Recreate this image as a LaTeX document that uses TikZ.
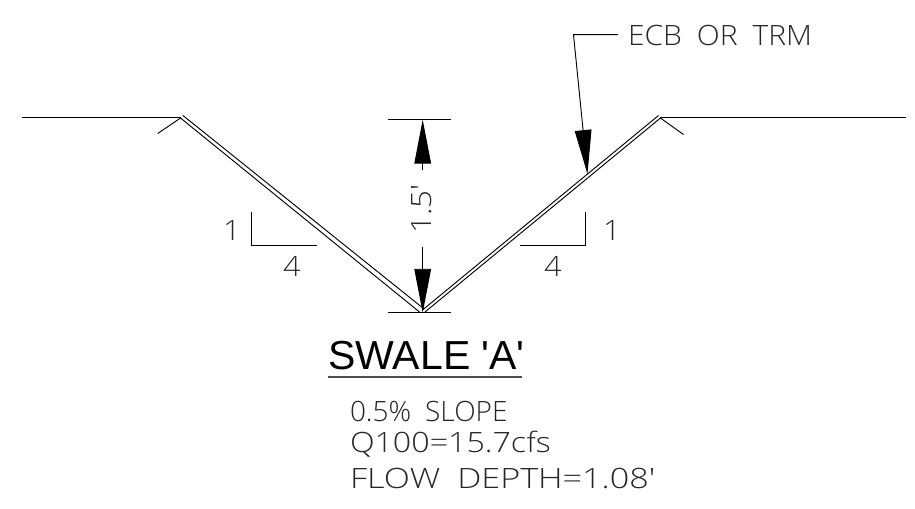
\documentclass[tikz,border=0pt]{standalone}
\usepackage{graphicx}
\usepackage{fontspec}
\newfontfamily\ttlfont{Liberation Sans}
\newfontfamily\cadfont{Open Sans Light}
\newcommand{\wid}[2]{\scalebox{#1}[1]{#2}}
\usetikzlibrary{arrows.meta}
\tikzset{
 x=0.75pt,y=-0.75pt,
 ln/.style={line width=0.85pt,black},
 thn/.style={line width=0.7pt,black},
 bigtip/.style={-{Triangle[length=33pt,width=12.5pt]}},
 cad/.style={inner sep=0pt,outer sep=0pt,anchor=base west,font=\cadfont\fontsize{21pt}{24pt}\selectfont,text=black!85},
 cadc/.style={cad,anchor=base},
}
\begin{document}
\begin{tikzpicture}
\useasboundingbox (0,0) rectangle (915,508);
% ground
\coordinate (gl0) at (22,117.3); \coordinate (gl1) at (181,117.3);
\coordinate (gr0) at (660,117.3); \coordinate (gr1) at (906,117.3);
\draw[ln] (gl0)--(gl1);
\draw[ln] (gr0)--(gr1);
% ticks under crest
\coordinate (tl) at (157.7,133.5); \coordinate (tr) at (683.5,134.5);
\draw[thn] (181,117.7)--(tl);
\draw[thn] (660,117.7)--(tr);
% double lines
\coordinate (lu) at (182.7,115.3); \coordinate (ll) at (180.5,118);
\coordinate (bot) at (422.5,310); \coordinate (bl) at (419.5,312); \coordinate (br) at (425,312);
\coordinate (ru) at (658.5,115.5); \coordinate (rl) at (660.5,118);
\draw[thn] (lu)--(423.5,308.5);
\draw[thn] (ll)--(bl);
\draw[thn] (ru)--(bot);
\draw[thn] (rl)--(br);
% dimension
\coordinate (t0) at (388,119.7); \coordinate (t1) at (451,119.7);
\coordinate (b0) at (388,312.8); \coordinate (b1) at (451,312.8);
\coordinate (dt) at (422.7,119.7); \coordinate (dts) at (422.7,170);
\coordinate (db) at (422.7,312.8); \coordinate (dbs) at (422.7,247);
\draw[ln] (t0)--(t1);
\draw[ln] (b0)--(b1);
\draw[thn,bigtip] (dts)--(dt);
\draw[thn,bigtip] (dbs)--(db);
\node[cadc,rotate=90] (dim) at (431,209) {\wid{1.12}{1.5'}};
% leader
\coordinate (l0) at (618,34.7); \coordinate (l1) at (573.5,34.7); \coordinate (l2) at (587.5,174);
\draw[thn,bigtip] (l0)--(l1)--(l2);
\node[cad] (ecb) at (628,45) {\wid{1.07}{ECB\hspace{0.5em}OR\hspace{0.5em}TRM}};
% slope marks
\coordinate (sl0) at (251.3,211.7); \coordinate (sl1) at (251.3,245.5); \coordinate (sl2) at (316.7,245.5);
\coordinate (sr0) at (585,211.7); \coordinate (sr1) at (585,245.5); \coordinate (sr2) at (520,245.5);
\draw[thn] (sl0)--(sl1)--(sl2);
\draw[thn] (sr0)--(sr1)--(sr2);
\node[cadc] (n1l) at (232,240) {\wid{1.1}{1}};
\node[cadc] (n4l) at (292,276) {\wid{1.1}{4}};
\node[cadc] (n1r) at (612,240) {\wid{1.1}{1}};
\node[cadc] (n4r) at (553,276) {\wid{1.1}{4}};
% title
\node[inner sep=0pt,anchor=base west,font=\ttlfont\fontsize{30.4pt}{34pt}\selectfont] (title) at (328,369) {\wid{1.012}{SWALE 'A'}};
\coordinate (u0) at (328,377); \coordinate (u1) at (522,377);
\draw[line width=0.9pt,black!70] (u0)--(u1);
\node[cad] (a) at (350,421.7) {\wid{1.0}{0.5\%\hspace{0.5em}SLOPE}};
\node[cad] (b) at (350,452) {\wid{1.15}{Q100=15.7cfs}};
\node[cad] (c) at (350,488) {\wid{1.22}{FLOW\hspace{0.5em}DEPTH=1.08'}};
\end{tikzpicture}
\end{document}
